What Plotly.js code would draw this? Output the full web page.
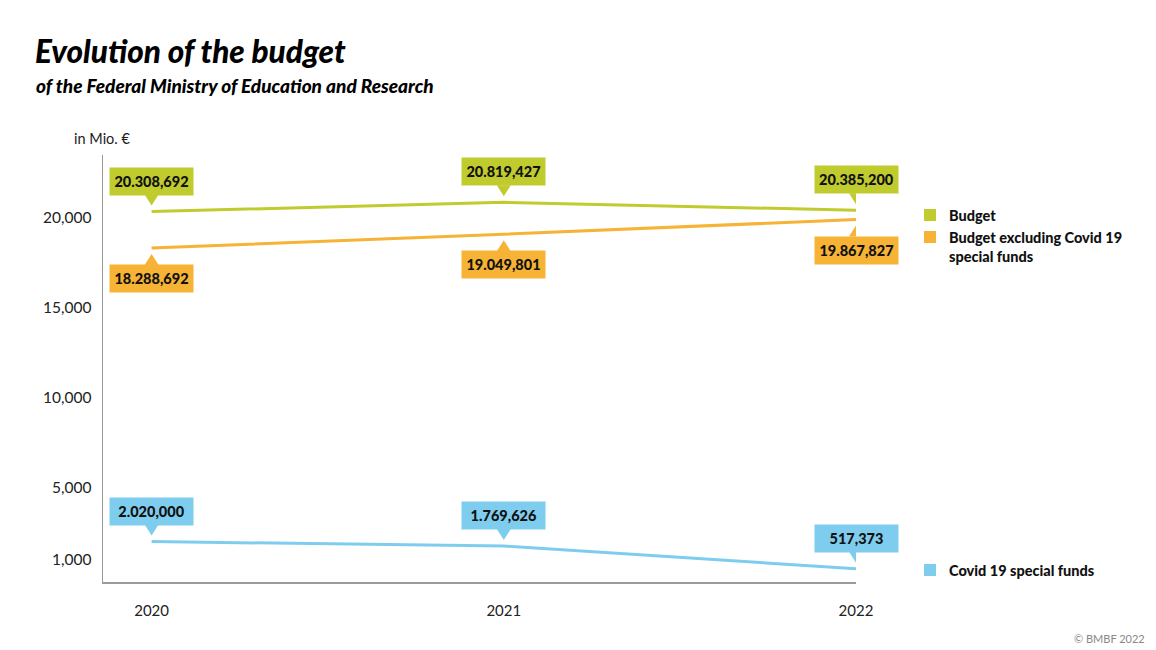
<!DOCTYPE html>
<html>
<head>
<meta charset="utf-8">
<script src="https://cdn.plot.ly/plotly-3.0.1.min.js"></script>
<style>
html,body{margin:0;padding:0;background:#fff;}
#chart{width:1156px;height:650px;}
</style>
</head>
<body>
<div id="chart"></div>
<script>
// ---- data (in Mio. €) ----
var years = [2020, 2021, 2022];
var budget = [20308.692, 20819.427, 20385.200];
var budgetExclCovid = [18288.692, 19049.801, 19867.827];
var covidFunds = [2020.000, 1769.626, 517.373];
var seriesNames = ['Budget', 'Budget excluding Covid 19<br>special funds', 'Covid 19 special funds'];
var yTickVals = [1000, 5000, 10000, 15000, 20000];
var yTickText = ['1,000', '5,000', '10,000', '15,000', '20,000'];
var xTickText = ['2020', '2021', '2022'];

var colors = ['#c0cb2e', '#f6b335', '#7fcdee'];
var FONT = 'Lato, "Noto Sans", sans-serif';

// German-style value label: 20308.692 -> "20.308,692"
function fmt(v) {
  var s = v.toFixed(3);
  var parts = s.split('.');
  var intPart = parts[0].replace(/\B(?=(\d{3})+(?!\d))/g, '.');
  return intPart + ',' + parts[1];
}

var series = [budget, budgetExclCovid, covidFunds];
var above = [true, false, true]; // label box above or below the line

var traces = series.map(function (vals, i) {
  return {
    x: years, y: vals, type: 'scatter', mode: 'lines',
    line: {color: colors[i], width: 3},
    hoverinfo: 'skip', showlegend: false
  };
});

// plot area in px
var L = 103, R = 300, T = 155, B = 68, W = 1156, H = 650;
var plotW = W - L - R, plotH = H - T - B;
function px2paperY(py) { return (H - B - py) / plotH; }
function px2paperX(px) { return (px - L) / plotW; }

var annotations = [];
var shapes = [];

series.forEach(function (vals, i) {
  vals.forEach(function (v, j) {
    var up = above[i];
    annotations.push({
      x: years[j], y: v, xref: 'x', yref: 'y',
      text: fmt(v),
      showarrow: false,
      xanchor: 'center',
      yanchor: up ? 'bottom' : 'top',
      yshift: up ? 16 : -16,
      bgcolor: colors[i],
      width: 75, height: 19, borderpad: 4,
      font: {family: FONT, size: 14.5, color: '#111', weight: 900}
    });
    shapes.push({
      type: 'path', xref: 'x', yref: 'y',
      xsizemode: 'pixel', ysizemode: 'pixel',
      xanchor: years[j], yanchor: v,
      path: up ? 'M -7 17 L 7 17 L 0 6 Z' : 'M -7 -17 L 7 -17 L 0 -6 Z',
      fillcolor: colors[i], line: {width: 0}
    });
  });
});

// legend (custom)
var legendPx = [215, 237, 570];
seriesNames.forEach(function (name, i) {
  var cy = legendPx[i];
  shapes.push({
    type: 'rect', xref: 'paper', yref: 'paper',
    x0: px2paperX(924), x1: px2paperX(936),
    y0: px2paperY(cy + 6), y1: px2paperY(cy - 6),
    fillcolor: colors[i], line: {width: 0}
  });
  annotations.push({
    xref: 'paper', yref: 'paper',
    x: px2paperX(947), y: px2paperY(cy - 10),
    xanchor: 'left', yanchor: 'top', align: 'left',
    text: name, showarrow: false,
    font: {family: FONT, size: 14.5, color: '#111', weight: 900}
  });
});

// header texts
annotations.push({
  xref: 'paper', yref: 'paper', x: px2paperX(33), y: px2paperY(30),
  xanchor: 'left', yanchor: 'top', showarrow: false,
  text: 'Evolution of the budget',
  font: {family: FONT, size: 31.5, color: '#000', weight: 900, style: 'italic'}
});
annotations.push({
  xref: 'paper', yref: 'paper', x: px2paperX(34), y: px2paperY(72),
  xanchor: 'left', yanchor: 'top', showarrow: false,
  text: 'of the Federal Ministry of Education and Research',
  font: {family: FONT, size: 19, color: '#000', weight: 900, style: 'italic'}
});
annotations.push({
  xref: 'paper', yref: 'paper', x: px2paperX(72), y: px2paperY(128),
  xanchor: 'left', yanchor: 'top', showarrow: false,
  text: 'in Mio. €',
  font: {family: FONT, size: 14.5, color: '#222'}
});
annotations.push({
  xref: 'paper', yref: 'paper', x: px2paperX(1147), y: px2paperY(630),
  xanchor: 'right', yanchor: 'top', showarrow: false,
  text: '© BMBF 2022',
  font: {family: FONT, size: 11, color: '#888'}
});

var layout = {
  width: W, height: H,
  margin: {l: L, r: R, t: T, b: B, pad: 0},
  paper_bgcolor: '#fff', plot_bgcolor: '#fff',
  showlegend: false,
  xaxis: {
    range: [2019.862, 2022], tickvals: years, ticktext: xTickText,
    showgrid: false, zeroline: false, showline: true,
    linecolor: '#9a9a9a', linewidth: 2, ticks: '',
    ticklabelstandoff: 14,
    tickfont: {family: FONT, size: 15, color: '#222'},
    fixedrange: true
  },
  yaxis: {
    range: [-222, 23444], tickvals: yTickVals, ticktext: yTickText,
    showgrid: false, zeroline: false, showline: true,
    linecolor: '#9a9a9a', linewidth: 1.5, ticks: '',
    ticklabelstandoff: 7,
    tickfont: {family: FONT, size: 15.5, color: '#222'},
    fixedrange: true
  },
  annotations: annotations,
  shapes: shapes,
  font: {family: FONT}
};

Plotly.newPlot('chart', traces, layout, {displayModeBar: false, staticPlot: true});
</script>
</body>
</html>
